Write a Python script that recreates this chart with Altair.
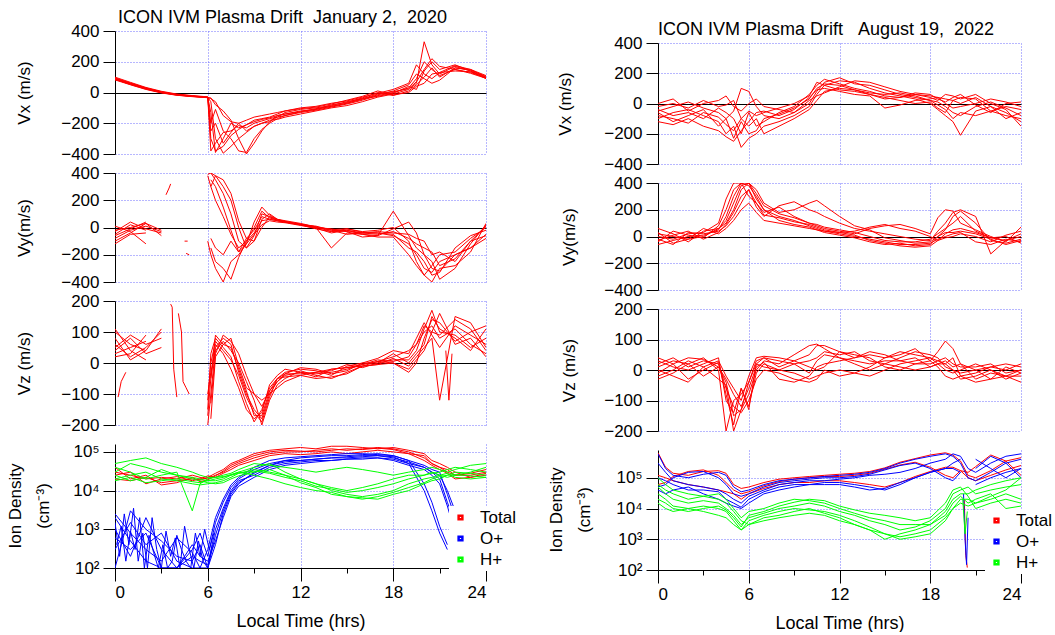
import altair as alt
import pandas as pd

FONT = "Liberation Sans"
RED, BLUE, GREEN = "#ff0000", "#0000ff", "#00ff00"
GRID = "#6f6fff"
SPECIES = ["Total", "O+", "H+"]
X_MAJOR = [6, 12, 18, 24]
X_ALL = [0, 3, 6, 9, 12, 15, 18, 21, 24]
DENS_TICKS = [100, 1000, 10000, 100000]
ION_TITLE = ["Ion Density", "(cm\u207b\u00b3)"]

TITLE_JAN = "ICON IVM Plasma Drift\u00a0 January 2,\u00a0 2020"
TITLE_AUG = "ICON IVM Plasma Drift\u00a0 \u00a0August 19,\u00a0 2022"

# ---------------- January 2, 2020 ----------------
GX_J = [0, 1, 2, 3, 4, 5, 5.5, 6, 6.2, 6.5, 7, 7.5, 8, 8.5, 9, 9.5, 10, 10.5, 11, 12, 13, 14, 15, 16, 17, 18,
        19, 19.5, 20, 20.5, 21, 22, 23, 24]

JAN_VX = [
    [95, 62, 30, 5, -12, -22, -26, -30, -380, -330, -260, -250, -215, -230, -200, -185, -170, -160, -150, -130, -115, -95, -75, -50, -20, 0, 30, 90, 200, 150, 110, 150, 130, 95],
    [88, 55, 25, 0, -16, -25, -28, -32, -60, -300, -395, -350, -300, -260, -220, -200, -180, -175, -160, -140, -120, -100, -85, -60, -30, -10, 20, 60, 330, 180, 120, 170, 140, 100],
    [100, 66, 33, 8, -10, -20, -24, -28, -200, -110, -250, -300, -380, -390, -300, -240, -200, -170, -150, -125, -105, -90, -70, -45, -15, 10, 50, 120, 90, 60, 80, 160, 150, 110],
    [82, 50, 20, -3, -18, -27, -30, -34, -40, -60, -150, -190, -200, -250, -220, -200, -190, -160, -130, -110, -100, -85, -60, -40, -25, -5, 40, 20, 140, 200, 150, 180, 140, 90],
    [92, 58, 27, 3, -14, -23, -27, -31, -130, -390, -300, -200, -230, -210, -180, -170, -160, -140, -120, -100, -90, -70, -55, -30, -5, 20, 60, 180, 120, 90, 130, 140, 135, 95],
    [86, 52, 22, -1, -17, -26, -29, -33, -35, -80, -120, -180, -300, -400, -330, -250, -190, -150, -140, -120, -110, -80, -65, -35, 0, -20, 10, 50, 100, 160, 100, 160, 145, 105],
    [90, 60, 28, 2, -15, -24, -28, -31, -300, -380, -350, -280, -240, -210, -190, -175, -165, -150, -140, -125, -110, -90, -70, -40, -10, 5, 25, 70, 150, 220, 170, 150, 125, 92],
    [84, 54, 24, 1, -14, -25, -29, -32, -250, -200, -330, -260, -200, -180, -160, -150, -140, -130, -120, -105, -95, -75, -50, -25, 10, -15, 0, 40, 60, 120, 130, 175, 150, 98],
]

JAN_VY = [
    [-50, 20, -20, None, None, None, None, 380, 300, 200, 80, -50, -150, -100, -40, 50, 60, 50, 40, 20, 0, -20, -30, -40, -40, -60, -120, -200, -300, -330, -250, -200, -150, -50],
    [-100, -40, 30, -60, None, None, None, None, 400, 350, 250, 100, -100, -150, -60, 100, 80, 50, 40, 20, -10, -30, -20, -50, -60, 120, -60, -150, -200, -250, -380, -300, -120, 20],
    [10, -30, -120, None, None, None, None, -100, -200, -300, -400, -250, -200, -120, -50, 20, 50, 40, 35, 15, -5, -40, -20, -40, -50, -30, -80, -120, -150, -180, -280, -230, -100, -60],
    [-30, 40, -10, -40, None, None, None, 390, 400, 380, 300, 200, 0, -150, -100, 0, 80, 60, 40, 20, 0, -150, -40, -50, -70, -70, -200, -280, -350, -400, -300, -280, -180, 30],
    [-20, 0, 30, -20, None, None, None, None, -80, -150, -200, -100, -180, -120, 40, 150, 90, 60, 45, 20, 10, -20, -50, -40, -30, -40, -50, -80, -100, -200, -180, -250, -100, 10],
    [-60, -10, 40, None, None, None, None, None, 350, 300, 150, -20, -180, -80, -20, 80, 60, 50, 40, 25, 0, -10, -30, -70, -60, -10, 40, -40, -200, -300, -320, -200, -150, -80],
    [-80, -20, 10, -30, None, None, None, None, 300, 380, 350, 250, 50, -80, -100, 60, 100, 60, 50, 30, 5, -15, -10, -30, -20, 0, -100, -250, -350, -280, -200, -180, -80, 0],
    [-120, -50, -40, None, None, None, None, None, -150, -250, -300, -380, -220, -100, 0, 120, 70, 55, 45, 25, 5, -30, -10, -35, -40, -50, -150, -180, -250, -350, -330, -150, -60, -20],
]
JAN_VY_FRAG = [
    ([3.3, 3.5, 3.6], [240, 290, 320]),
    ([4.5, 4.7], [-100, -100]),
    ([4.6, 4.8], [-190, -200]),
]

JAN_VZ = [
    [100, 60, 40, None, None, None, None, -200, -100, 50, 80, 60, -30, -100, -150, -180, -100, -60, -40, -30, -35, -30, -20, -5, 10, 5, 20, 60, 100, 120, 80, 110, 60, 30],
    [40, 80, 30, 50, None, None, None, -150, 30, 80, 50, 20, -60, -130, -190, -150, -80, -50, -30, -20, -25, -40, -10, 0, 0, 30, 0, 30, 60, 150, 110, 80, 40, 110],
    [60, 20, 50, 100, None, None, None, -100, -30, 40, 70, 40, 0, -60, -120, -200, -120, -70, -50, -25, -40, -50, -30, -10, -5, 15, -10, 20, 50, 80, -120, 150, 130, 50],
    [110, 40, 10, None, None, None, None, None, -50, 60, 30, -20, -80, -150, -180, -160, -70, -40, -20, -30, -45, -20, -15, -10, 5, 0, -20, 10, 40, 100, 160, 60, 80, 20],
    [30, 50, 70, None, None, None, None, None, -180, 20, 60, 80, -10, -80, -100, -140, -90, -60, -35, -15, -20, -35, -25, 0, 15, 40, 30, 80, 130, 90, 50, 120, 90, 60],
    [80, 10, 40, 110, None, None, None, -120, 0, 70, 40, 10, -40, -110, -160, -190, -110, -50, -45, -40, -30, -25, -5, -15, 0, 10, 10, 40, 110, 170, 100, 90, 50, 80],
    [50, 90, 60, 80, None, None, None, -170, -50, 90, 60, 50, -20, -90, -170, -170, -90, -50, -35, -35, -30, -20, -15, -5, 5, 20, 40, 60, 120, 100, 90, 140, 110, 40],
    [20, 30, 90, None, None, None, None, None, -130, 30, 90, 70, 30, -40, -100, -120, -100, -80, -60, -40, -50, -45, -35, -10, -5, 0, -30, 0, 80, 140, 130, 70, 100, 120],
]
JAN_VZ_FRAG = [
    ([0.2, 0.4, 0.7], [-110, -60, -30]),
    ([3.6, 3.7, 3.8, 4.0], [190, 180, -20, -110]),
    ([4.1, 4.3, 4.4, 4.6, 4.8], [160, 100, -60, -80, -100]),
    ([21.4, 21.6, 21.8], [40, -120, 30]),
]

GD_J = [0, 1, 2, 3, 4, 5, 5.5, 6, 6.5, 7, 7.5, 8, 9, 10, 11, 12, 13, 14, 15, 16, 17, 18, 19, 20, 20.5, 21, 21.5, 22, 23, 24]

JAN_TOTAL = [
    [3e4, 2.5e4, 2e4, 2.2e4, 2e4, 2.5e4, 2.2e4, 2e4, 2.5e4, 3e4, 4e4, 5e4, 7e4, 9e4, 1e5, 1e5, 1.1e5, 1.2e5, 1.1e5, 1.2e5, 1.3e5, 1.2e5, 1e5, 7e4, 5e4, 4e4, 3e4, 2.5e4, 2.5e4, 3e4],
    [2e4, 1.8e4, 2.2e4, 1.6e4, 1.8e4, 2e4, 1.9e4, 2.2e4, 2.8e4, 3.5e4, 5e4, 6e4, 9e4, 1.1e5, 1.2e5, 1.3e5, 1.2e5, 1.4e5, 1.4e5, 1.3e5, 1.2e5, 1.3e5, 1.1e5, 9e4, 6e4, 5e4, 4e4, 3e4, 2.2e4, 2.5e4],
    [2.5e4, 3e4, 1.5e4, 2e4, 2.3e4, 1.8e4, 2e4, 2.4e4, 2.2e4, 2.8e4, 3.5e4, 4.5e4, 6e4, 8e4, 9e4, 8.5e4, 9e4, 1e5, 9e4, 1e5, 1.1e5, 1e5, 9e4, 6e4, 4.5e4, 3.5e4, 2.8e4, 2e4, 2.2e4, 2.8e4],
    [4e4, 2e4, 2.5e4, 1.4e4, 1.6e4, 2.2e4, 1.7e4, 1.9e4, 2.4e4, 3.2e4, 4.5e4, 5.5e4, 8e4, 1e5, 1.1e5, 1.05e5, 1e5, 1.1e5, 1.2e5, 1.15e5, 1.25e5, 1.15e5, 9e4, 8e4, 5e4, 4e4, 3.5e4, 2.5e4, 2.8e4, 3.5e4],
]
JAN_OPLUS = [
    [2000, 500, 150, 100, 100, 300, 800, 200, 1500, 5000, 1.2e4, 2e4, 3.5e4, 5e4, 6e4, 7e4, 7.5e4, 8e4, 8e4, 8.5e4, 9e4, 8e4, 6e4, 1.5e4, 5000, 1200, 400, None, None, None],
    [300, 1500, 400, 800, 150, 100, 100, 100, 400, 2500, 8000, 1.5e4, 3e4, 4.5e4, 6e4, 6e4, 6.5e4, 7e4, 7.5e4, 8e4, 8e4, 7.5e4, 5e4, 1e4, 3000, 800, 300, None, None, None],
    [1000, 200, 2000, 300, 100, 200, 150, 120, 1000, 3500, 1e4, 1.8e4, 2.5e4, 4e4, 5e4, 5.5e4, 6e4, 6e4, 6.5e4, 7e4, 7e4, 6.5e4, 5e4, 4e4, 3e4, 2.5e4, 1e4, 3000, None, None],
    [2500, 800, 300, 150, 600, 250, 100, 300, 2000, 6000, 1.4e4, 2.2e4, 4e4, 6e4, 7e4, 7.5e4, 8e4, 8.5e4, 9e4, 9e4, 8.5e4, 8e4, 6e4, 4.5e4, 3.5e4, 3e4, 8000, 2000, 200, None],
    [100, 3000, 1000, 500, 200, 150, 400, 100, 700, 3000, 9000, 1.6e4, 2.8e4, 4.5e4, 5.5e4, 6e4, 6.5e4, 7e4, 7e4, 7.5e4, 8e4, 7e4, 5.5e4, 4e4, 3e4, 2e4, 5000, 1500, None, None],
    [600, 300, 800, 100, 100, 400, 200, 150, 500, 2000, 7000, 1.3e4, 2.2e4, 3.5e4, 4.5e4, 5e4, 5.5e4, 6e4, 6.5e4, 6.5e4, 7e4, 6e4, 4.5e4, 3.5e4, 2.5e4, 1.5e4, 4000, 800, None, None],
]
JAN_OPLUS_FRAG = [
    ([0, 0.3, 0.6, 0.9, 1.2, 1.5, 1.8, 2.1, 2.4, 2.7, 3.0, 3.3, 3.6, 3.9, 4.2, 4.5, 4.8, 5.1, 5.4, 5.7, 6.0, 6.3],
     [1500, 200, 2500, 400, 3500, 150, 800, 100, 2000, 300, 100, 900, 200, 600, 100, 1200, 300, 100, 500, 150, 100, 400]),
    ([0.1, 0.4, 0.7, 1.0, 1.3, 1.6, 1.9, 2.2, 2.5, 2.8, 3.1, 3.4, 3.7, 4.0, 4.3, 4.6, 4.9, 5.2, 5.5, 5.8, 6.1, 6.4],
     [400, 1200, 150, 900, 300, 2000, 100, 700, 250, 100, 400, 100, 150, 700, 300, 150, 100, 800, 200, 1000, 300, 800]),
]
JAN_HPLUS = [
    [3e4, 5e4, 4e4, 3e4, 2.5e4, 2.2e4, 2e4, 1.8e4, 1.8e4, 2e4, 2.5e4, 3e4, 4e4, 5e4, 3e4, 2e4, 1.5e4, 1.2e4, 1e4, 1.2e4, 1.5e4, 2e4, 2.5e4, 2.5e4, 3e4, 2.5e4, 2.2e4, 2.5e4, 3e4, 4e4],
    [2e4, 2.5e4, 3e4, 2e4, 1.8e4, 1.5e4, 1.4e4, 1.5e4, 1.6e4, 1.8e4, 2.2e4, 2.8e4, 3.5e4, 3e4, 2.5e4, 2e4, 1.5e4, 1e4, 8e3, 7e3, 8e3, 1e4, 1.5e4, 2e4, 2.2e4, 2.5e4, 2.8e4, 2.2e4, 2e4, 2.2e4],
    [4e4, 3e4, 2e4, 2.5e4, 3e4, 3e3, 1.5e4, 2e4, 2.2e4, 2.5e4, 2.8e4, 3.5e4, 5e4, 4.5e4, 4e4, 3.5e4, 3e4, 3.5e4, 4e4, 3.5e4, 3e4, 2.5e4, 3e4, 3.5e4, 4e4, 3.5e4, 3e4, 3.5e4, 4.5e4, 5e4],
    [1.8e4, 2.2e4, 1.6e4, 1.8e4, 2e4, 1.7e4, 1.6e4, 1.8e4, 2e4, 2.2e4, 2.6e4, 3e4, 2.5e4, 2e4, 1.5e4, 1.2e4, 1e4, 9e3, 7e3, 6e3, 7e3, 9e3, 1.2e4, 1.6e4, 2e4, 2.3e4, 2.5e4, 2.6e4, 2.4e4, 2.2e4],
    [5e4, 6e4, 7e4, 5e4, 4e4, 3e4, 2.5e4, 2.2e4, 2.2e4, 2.3e4, 2.5e4, 2.8e4, 3.2e4, 2.8e4, 2.2e4, 1.8e4, 1.3e4, 1.1e4, 9e3, 1e4, 1.2e4, 1.5e4, 2e4, 2.5e4, 2.8e4, 3e4, 3.5e4, 4e4, 3.5e4, 3e4],
    [2.5e4, 1.8e4, 2.2e4, 3.5e4, 2.5e4, 2e4, 1.8e4, 1.6e4, 1.5e4, 1.6e4, 2e4, 2.4e4, 3e4, 3.5e4, 2.5e4, 1.6e4, 1.2e4, 8e3, 7e3, 6.5e3, 6e3, 8e3, 1e4, 1.5e4, 1.8e4, 2e4, 2.5e4, 3e4, 2.8e4, 2.5e4],
]

# ---------------- August 19, 2022 ----------------
GX_A = [0, 1, 2, 3, 4, 4.5, 5, 5.5, 6, 6.5, 7, 8, 9, 10, 10.5, 11, 12, 13, 14, 15, 16, 17, 18, 18.5, 19, 19.5,
        20, 21, 22, 23, 24]

AUG_VX = [
    [-100, -60, -40, -80, -120, -200, -150, -290, -230, -200, -150, -120, -80, -20, 60, 120, 150, 140, 100, 70, 50, 30, 0, -40, -80, -120, -210, -50, -20, -60, -120],
    [-50, -20, 10, -30, -60, -100, -50, 100, 80, -20, -80, -100, -60, 0, 80, 140, 170, 130, 120, 90, 60, 40, 20, 10, -20, -60, -80, -20, 10, -30, -80],
    [-120, -140, -100, -150, -180, -220, -250, -180, -120, -60, -50, -80, -40, 40, 90, 100, 80, 60, 50, -30, -10, 20, 30, 40, 30, 20, 0, 40, -20, -100, -60],
    [0, 30, -50, 0, 20, 50, -20, -50, 0, 30, -20, -40, -60, 20, 50, 70, 110, 150, 140, 110, 80, 60, 40, 20, 60, 50, 30, 60, 0, -40, -150],
    [-80, -100, -130, -60, -90, -140, -180, -100, -150, -100, -200, -150, -100, -40, 20, 80, 100, 90, 60, 40, 20, 0, 10, -30, -60, 20, 40, 30, -50, -20, -40],
    [-40, -80, -60, -100, -30, -60, -100, -200, -60, -150, -120, -60, -20, 60, 120, 160, 130, 100, 80, 50, 40, 60, 50, 40, 0, -30, -20, 0, 30, 10, -20],
    [-60, -120, -80, -40, -150, -100, -230, -120, -200, -180, -100, -70, -30, 30, 100, 130, 120, 90, 70, 60, 70, 50, 20, -10, -40, -100, -60, -80, -50, -80, -100],
    [-20, 0, -30, 20, -20, -10, 20, -100, -50, -80, -60, -30, 0, 50, 140, 120, 90, 80, 60, 30, 40, 70, 60, 30, 10, 40, 60, -10, -60, 0, 10],
]
AUG_VY = [
    [0, -20, 20, 30, 100, 280, 400, 400, 380, 300, 200, 150, 120, 80, 60, 40, 20, 0, -20, -40, -60, -60, -50, -20, 0, 20, 30, -40, -60, -20, -40],
    [-60, -30, 0, 10, 50, 150, 300, 400, 400, 350, 250, 180, 200, 250, 270, 230, 150, 80, 50, -10, -30, -50, -40, 0, 50, 150, 190, 100, -30, -50, -20],
    [60, 20, -40, 40, 60, 100, 200, 350, 400, 280, 200, 120, 90, 70, 50, 40, 30, 10, -30, -50, -70, -80, -70, -30, 20, 50, 60, 30, -10, 0, -50],
    [-20, -60, 30, 20, 40, 80, 150, 250, 350, 220, 150, 230, 260, 200, 180, 150, 100, 60, 40, 20, 0, -20, -30, 40, 100, 180, 200, 150, -130, -30, 20],
    [20, 0, -20, 60, 20, 60, 120, 200, 250, 180, 120, 100, 80, 60, 50, 30, 10, -10, -40, -60, -50, -70, -60, 0, 30, 30, 40, 20, -20, -60, -30],
    [-40, 40, 10, -10, 80, 200, 350, 400, 300, 250, 180, 220, 150, 100, 80, 60, 40, 20, 60, 80, 90, 60, 20, 140, 200, 190, 100, 50, 0, -40, 70],
    [30, -50, -20, 0, 60, 120, 250, 380, 400, 320, 230, 170, 140, 100, 90, 70, 50, 30, 0, -30, -40, -40, -20, 20, 60, 100, 150, 40, -10, -30, 0],
    [-30, 10, 40, -20, 30, 90, 180, 300, 350, 250, 160, 140, 110, 90, 70, 50, 30, 40, 70, 90, 60, 40, 0, -30, -10, 0, 20, 0, -40, 10, 40],
]
AUG_VZ = [
    [10, 30, 20, 40, 0, -200, -100, -80, -40, 20, 40, 30, 20, -10, 30, 50, 40, 30, 20, 30, 30, 20, 30, 60, 95, 70, 20, 0, -30, 10, -10],
    [-20, 0, 30, 10, -30, -50, -200, -130, -80, 0, 30, 20, 50, 80, 85, 70, 40, 20, 0, 20, 10, 0, 10, 20, 20, 40, -20, -10, 10, 0, 20],
    [20, 40, 10, 30, 20, -60, -120, -140, -100, -30, 0, -10, -30, -40, -30, 0, -20, -10, 10, 40, 50, 70, 30, 10, -20, -30, -20, -40, -30, -20, -40],
    [0, -20, -40, 10, 30, -20, -60, -100, -20, 40, 45, 40, 30, 10, 0, 10, 60, 50, 40, 10, 0, 20, 20, 30, 40, 20, 10, 10, 20, -10, 0],
    [30, 10, 0, 20, 40, -100, -140, -60, -120, -10, 20, 0, -10, -30, -20, -10, 0, -10, -20, 0, 20, 30, 40, 30, 20, 0, -10, 0, 10, 20, 10],
    [-30, -10, 20, -20, 10, -30, -80, -120, -60, 10, 25, -30, -40, -20, 10, 20, 30, 40, 60, 50, 30, 40, 10, 20, 30, 10, 20, -30, -10, -20, -20],
    [40, 20, 40, 35, 10, -40, -150, -130, -40, 30, 40, 10, 30, 50, 80, 80, 60, 40, 50, 40, 60, 50, 40, 20, 0, -10, 0, 20, 0, -20, 0],
    [-10, 20, -30, 0, 25, -80, -180, -60, -130, 20, 10, 0, 20, 30, 40, 60, 50, 60, 30, 20, 40, 60, 50, 40, 10, 0, -30, -20, 0, -30, -10],
]

GD_A = [0, 0.5, 1, 2, 3, 4, 4.5, 5, 5.5, 6, 7, 8, 9, 10, 11, 12, 13, 14, 15, 16, 17, 18, 19, 19.5, 20, 20.5, 21, 22, 23, 24]

AUG_TOTAL = [
    [6.5e5, 2.2e5, 1.4e5, 1.2e5, 1.6e5, 1.7e5, 1.4e5, 6e4, 4.5e4, 5e4, 7e4, 9e4, 1e5, 1.1e5, 1.2e5, 1.3e5, 1.4e5, 1.6e5, 2.1e5, 3.2e5, 4.2e5, 5.5e5, 6.5e5, 5.5e5, 3.5e5, 1.2e5, 1e5, 1.7e5, 3.5e5, 4.5e5],
    [1.2e5, 1e5, 8e4, 6e4, 5e4, 4e4, 3.5e4, 3e4, 2e4, 3e4, 4.5e4, 6e4, 7e4, 7e4, 8e4, 8e4, 7e4, 6e4, 5e4, 7e4, 1.1e5, 1.6e5, 2.2e5, 2.2e5, 1.7e5, 1e5, 8e4, 1.2e5, 1.8e5, 2.5e5],
    [6e4, 7e4, 1.1e5, 1.6e5, 1.8e5, 1.2e5, 7e4, 4e4, 3e4, 3.5e4, 5.5e4, 7.5e4, 9e4, 1e5, 1.1e5, 1.1e5, 1.2e5, 1.4e5, 1.9e5, 2.6e5, 3.2e5, 2.2e5, 1.2e5, 1e5, 1.7e5, 1.5e5, 2.3e5, 5.5e5, 3.5e5, 1.2e5],
]
AUG_OPLUS = [
    [6e5, 2e5, 1.2e5, 1e5, 1.3e5, 1.5e5, 1.2e5, 5e4, 3.5e4, 4e4, 6e4, 8e4, 9e4, 1e5, 1.1e5, 1.2e5, 1.3e5, 1.5e5, 2e5, 3e5, 4e5, 5e5, 6e5, 5e5, 3e5, 1e5, 8e4, 1.5e5, 3e5, 4e5],
    [3e5, 1.5e5, 8e4, 6e4, 5e4, 4e4, 3e4, 2e4, 1.5e4, 2.5e4, 4e4, 6e4, 7e4, 8e4, 8e4, 9e4, 1e5, 1.2e5, 1.3e5, 1.5e5, 2e5, 3e5, 4e5, 6e5, 5e5, 2e5, 1.5e5, 3e5, 5e5, 6e5],
    [1e5, 8e4, 6e4, 4e4, 4e4, 3.5e4, 2e4, 1.5e4, 1.1e4, 2e4, 3.5e4, 5e4, 6e4, 6e4, 7e4, 7e4, 6e4, 5e4, 4e4, 6e4, 1e5, 1.5e5, 2e5, 2e5, 1.5e5, None, 6e4, 1e5, 1.5e5, 2e5],
    [5e4, 6e4, 1e5, 1.5e5, 1.6e5, 1e5, 6e4, 3e4, 2.5e4, 3e4, 5e4, 7e4, 8e4, 9e4, 1e5, 1e5, 1.1e5, 1.3e5, 1.8e5, 2.5e5, 3e5, 2e5, 1e5, 8e4, 1.5e5, None, 2e5, 5e5, 3e5, 1e5],
    [4e4, 3e4, 4e4, 5e4, 3e4, 2e4, 1.5e4, 1.2e4, 1e4, 1.5e4, 3e4, 4e4, 5e4, 6e4, 6e4, 6e4, 5e4, 4e4, 4.5e4, 7e4, 1e5, 1.5e5, 2e5, 3e5, 4e5, None, 4e5, 2e5, 1e5, 2e5],
]
AUG_HPLUS = [
    [1e5, 6e4, 4e4, 3e4, 2.5e4, 3e4, 2e4, 1e4, 5e3, 8e3, 1e4, 1.5e4, 2e4, 1.8e4, 1.5e4, 1e4, 7e3, 5e3, 4e3, 3e3, 3e3, 3e3, 8e3, 2e4, 3e4, 3e4, 4e4, 6e4, 8e4, 1e5],
    [5e4, 3e4, 2e4, 1.5e4, 1.8e4, 1.5e4, 1e4, 6e3, 3e3, 5e3, 7e3, 1e4, 1.2e4, 1.5e4, 1.2e4, 8e3, 6e3, 4e3, 3e3, 2e3, 2.5e3, 4e3, 1e4, 3e4, 4e4, 5e4, 3e4, 4e4, 5e4, 6e4],
    [3e4, 2e4, 1.2e4, 1e4, 1.2e4, 1e4, 8e3, 4e3, 2e3, 4e3, 6e3, 8e3, 1e4, 9e3, 8e3, 6e3, 4e3, 2.5e3, 1.5e3, 1.2e3, 1.5e3, 2e3, 5e3, 1e4, 2e4, 2e4, 1.5e4, 2e4, 3e4, 2e4],
    [2e4, 1.5e4, 1e4, 8e3, 1e4, 1.2e4, 9e3, 5e3, 2.5e3, 6e3, 8e3, 1.2e4, 1.6e4, 2e4, 1.8e4, 1.2e4, 9e3, 7e3, 6e3, 5e3, 4e3, 5e3, 1.5e4, 4e4, 5e4, 2.5e4, 1e4, 1.5e4, 2e4, 1.5e4],
    [6e4, 4e4, 3e4, 2e4, 2.5e4, 2e4, 1.5e4, 8e3, 4e3, 3e3, 5e3, 6e3, 8e3, 1e4, 7e3, 5e3, 3e3, 2e3, 1e3, 1.5e3, 2e3, 3e3, 6e3, 1.5e4, 2.5e4, 1.5e4, 2e4, 3e4, 1e4, 1.2e4],
    [1.5e4, 1e4, 8e3, 1e4, 8e3, 6e3, 5e3, 3e3, 2e3, 3e3, 4e3, 5e3, 6e3, 7e3, 6e3, 4e3, 3e3, 2e3, 1.5e3, 1e3, 1.2e3, 1.5e3, 4e3, 1e4, 1.5e4, 1.2e4, 1.5e4, 2.5e4, 4e4, 1e5],
]
AUG_ION_FRAG = [
    ("Total", [20.25, 20.35, 20.45], [2e4, 300, 120]),
    ("O+", [20.2, 20.3, 20.4, 20.5], [3e4, 1e3, 150, 5e3]),
    ("H+", [20.15, 20.3, 20.45], [2e4, 1500, 8000]),
]


def rows_from(xs, traces, tag, frags=()):
    out = []
    for i, ys in enumerate(traces):
        seg = 0
        for x, y in zip(xs, ys):
            if y is None:
                seg += 1
                continue
            out.append({"lt": x, "v": y, "seg": f"{tag}{i}-{seg}"})
    for j, (fx, fy) in enumerate(frags):
        for x, y in zip(fx, fy):
            out.append({"lt": x, "v": y, "seg": f"{tag}f{j}"})
    return out


def ion_rows(xs, total, oplus, hplus, tag, frags=(), oplus_frags=()):
    out = []
    for sp, tr, fr in (("Total", total, ()), ("O+", oplus, oplus_frags), ("H+", hplus, ())):
        for r in rows_from(xs, tr, tag + sp, fr):
            r["sp"] = sp
            out.append(r)
    for j, (sp, fx, fy) in enumerate(frags):
        for x, y in zip(fx, fy):
            out.append({"lt": x, "v": y, "seg": f"{tag}x{j}", "sp": sp})
    return out


def x_plain():
    return alt.X("lt:Q", scale=alt.Scale(domain=[0, 24], nice=False, zero=False),
                 axis=alt.Axis(values=X_MAJOR, labels=False, ticks=False, domain=False, grid=True,
                               gridColor=GRID, gridDash=[1, 2], title=None))


def vel_panel(rows, ytitle, dom, step, w, h, title_x, title=None, title_dx=0):
    ticks = list(range(dom[0], dom[1] + 1, step))
    ch = alt.Chart(pd.DataFrame(rows)).mark_line(color=RED, strokeWidth=1, clip=True).encode(
        x=x_plain(),
        y=alt.Y("v:Q", scale=alt.Scale(domain=dom, nice=False, zero=False),
                axis=alt.Axis(values=ticks, title=ytitle, tickSize=12, labelPadding=4, grid=True,
                              gridColor={"condition": {"test": "datum.value === 0", "value": "black"}, "value": GRID},
                              gridDash={"condition": {"test": "datum.value === 0", "value": []}, "value": [1, 2]},
                              titleAngle=270, titleX=title_x, titleY=h / 2, titleAlign="center",
                              titleBaseline="top")),
        detail="seg:N",
    ).properties(width=w, height=h)
    if title:
        ch = ch.properties(title=alt.TitleParams(title, anchor="start", frame="group", fontSize=18, font=FONT,
                                                 fontWeight="normal", offset=-5, dx=title_dx, color="black"))
    return ch


def ion_panel(rows, dom, w, h, title_x, lx, ly):
    color = alt.Color("sp:N", scale=alt.Scale(domain=SPECIES, range=[RED, BLUE, GREEN]),
                      legend=alt.Legend(orient="none", legendX=lx, legendY=ly, title=None, symbolType="square",
                                        symbolSize=14, symbolStrokeWidth=2.5, labelFontSize=17, labelFont=FONT,
                                        labelColor="black", fillColor="white", padding=3, labelOffset=11,
                                        rowPadding=3, values=SPECIES))
    base = alt.Chart(pd.DataFrame(rows)).mark_line(strokeWidth=1, clip=True).encode(
        x=alt.X("lt:Q", scale=alt.Scale(domain=[0, 24], nice=False, zero=False),
                axis=alt.Axis(values=X_ALL, labelExpr="datum.value % 6 === 0 ? datum.label : ''",
                              tickSize={"condition": {"test": "datum.value % 6 === 0", "value": 13}, "value": 5},
                              grid=True, gridColor=GRID, gridDash=[1, 2],
                              gridOpacity={"condition": {"test": "datum.value % 6 === 0 && datum.value > 0", "value": 1},
                                           "value": 0},
                              labelPadding=3, title="Local Time (hrs)", titleFontSize=18, titlePadding=12)),
        y=alt.Y("v:Q", scale=alt.Scale(type="log", domain=dom, nice=False),
                axis=alt.Axis(values=DENS_TICKS, tickSize=12, labelPadding=4, grid=True, gridColor=GRID,
                              gridDash=[1, 2],
                              labelExpr="datum.value == 100 ? '10\u00b2' : datum.value == 1000 ? '10\u00b3' : datum.value == 10000 ? '10\u2074' : '10\u2075'",
                              title=None)),
        color=color,
        detail="seg:N",
    )
    layers = [base.transform_filter(alt.datum.sp == s) for s in SPECIES]
    ytitle = alt.Chart(pd.DataFrame({"a": [0]})).mark_text(
        text=ION_TITLE, angle=270, lineHeight=28, fontSize=17, font=FONT, color="black",
        align="center", baseline="top", clip=False,
    ).encode(x=alt.value(title_x), y=alt.value(h / 2))
    return alt.layer(*layers, ytitle).properties(width=w, height=h)


def spacer(w, h):
    return alt.Chart(pd.DataFrame({"a": [0]})).mark_point(opacity=0).properties(width=w, height=h)


WL, WR = 371, 363
left = alt.vconcat(
    spacer(WL, 1),
    vel_panel(rows_from(GX_J, JAN_VX, "jx"), "Vx (m/s)", [-400, 400], 200, WL, 123, -99, TITLE_JAN, 3),
    vel_panel(rows_from(GX_J, JAN_VY, "jy", JAN_VY_FRAG), "Vy(m/s)", [-400, 400], 200, WL, 109, -99),
    vel_panel(rows_from(GX_J, JAN_VZ, "jz", JAN_VZ_FRAG), "Vz (m/s)", [-200, 200], 100, WL, 124, -99),
    ion_panel(ion_rows(GD_J, JAN_TOTAL, JAN_OPLUS, JAN_HPLUS, "j", oplus_frags=JAN_OPLUS_FRAG),
              [100, 160000], WL, 124, -107, 334, 62),
    spacing=19, bounds="flush",
).resolve_scale(color="independent")

right = alt.vconcat(
    spacer(WR, 13),
    vel_panel(rows_from(GX_A, AUG_VX, "ax"), "Vx (m/s)", [-400, 400], 200, WR, 121, -101, TITLE_AUG, 0),
    vel_panel(rows_from(GX_A, AUG_VY, "ay"), "Vy(m/s)", [-400, 400], 200, WR, 107, -97),
    vel_panel(rows_from(GX_A, AUG_VZ, "az"), "Vz (m/s)", [-200, 200], 100, WR, 122, -97),
    ion_panel(ion_rows(GD_A, AUG_TOTAL, AUG_OPLUS, AUG_HPLUS, "a", frags=AUG_ION_FRAG),
              [100, 800000], WR, 120, -109, 327, 59),
    spacing=19, bounds="flush",
).resolve_scale(color="independent")

chart = alt.hconcat(left, right, spacing=29).resolve_scale(color="independent").properties(
    padding={"left": 7, "top": 8, "right": 0, "bottom": 0}
).configure_view(stroke=None).configure_axis(
    labelFont=FONT, titleFont=FONT, labelFontSize=17, titleFontSize=17, titleFontWeight="normal",
    labelColor="black", titleColor="black", domainColor="black", tickColor="black", domainWidth=1, tickWidth=1
).configure_title(font=FONT, fontWeight="normal")

chart.save("out.html", embed_options={"renderer": "svg", "actions": False})
